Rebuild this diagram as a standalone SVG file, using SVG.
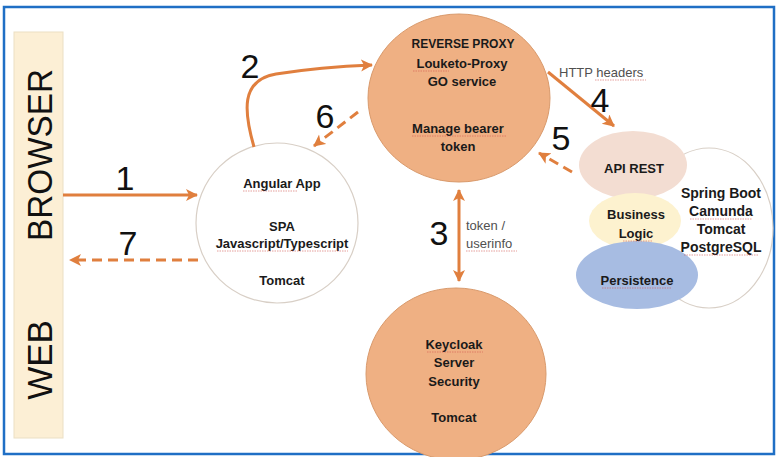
<svg xmlns="http://www.w3.org/2000/svg" width="776" height="457" viewBox="0 0 776 457">
<defs>
<style>
.t{font-family:"Liberation Sans",Arial,sans-serif;font-weight:bold;font-size:13px;fill:#1a1a1a;text-anchor:middle}
.big{font-size:14px}
.lbl{font-family:"Liberation Sans",Arial,sans-serif;font-size:13px;fill:#505050}
.num{font-family:"Liberation Sans",Arial,sans-serif;font-size:34px;fill:#111;text-anchor:middle}
.side{font-family:"Liberation Sans",Arial,sans-serif;font-size:35px;fill:#111;text-anchor:middle}
.orange{fill:#efb083;stroke:#d99a6c;stroke-width:1}
.arr{fill:none;stroke:#e07f3e;stroke-width:3}
.dash{stroke-dasharray:10 6}
.sp{stroke:#d2524c;stroke-width:1;stroke-dasharray:1.5 1;opacity:0.55}
</style>
<marker id="ah" markerWidth="14" markerHeight="14" refX="11" refY="6" orient="auto" markerUnits="userSpaceOnUse">
<path d="M0,0 L12,6 L0,12 L3,6 z" fill="#e07f3e"/>
</marker>
<marker id="ahs" markerWidth="14" markerHeight="14" refX="1" refY="6" orient="auto" markerUnits="userSpaceOnUse">
<path d="M12,0 L0,6 L12,12 L9,6 z" fill="#e07f3e"/>
</marker>
</defs>
<rect x="4" y="7" width="770" height="447" fill="#ffffff" stroke="#1f6fc5" stroke-width="2.5"/>

<g id="browser-bar">
<rect x="14" y="32" width="49" height="406" fill="#fcefd5" stroke="#ebdfc4" stroke-width="1"/>
<text class="side" transform="translate(52,155) rotate(-90)" textLength="172" lengthAdjust="spacingAndGlyphs">BROWSER</text>
<text class="side" transform="translate(52,360) rotate(-90)">WEB</text>
</g>

<g id="angular-app">
<ellipse cx="277" cy="223" rx="81" ry="80" fill="#ffffff" stroke="#d8cfc6" stroke-width="1.2"/>
<text class="t" x="282" y="188">Angular App</text>
<text class="t" x="282" y="231">SPA</text>
<text class="t" x="282" y="248">Javascript/Typescript</text>
<text class="t" x="282" y="285">Tomcat</text>
</g>

<g id="reverse-proxy">
<ellipse cx="459" cy="98" rx="91" ry="84" class="orange"/>
<text class="t" x="463" y="48" textLength="103" lengthAdjust="spacingAndGlyphs">REVERSE PROXY</text>
<text class="t" x="462" y="68">Louketo-Proxy</text>
<text class="t" x="462" y="86">GO service</text>
<text class="t" x="458" y="133">Manage bearer</text>
<text class="t" x="458" y="151">token</text>
</g>

<g id="keycloak">
<ellipse cx="456" cy="374" rx="90" ry="86" class="orange"/>
<text class="t" x="454" y="349">Keycloak</text>
<text class="t" x="454" y="367">Server</text>
<text class="t" x="454" y="386">Security</text>
<text class="t" x="454" y="422">Tomcat</text>
</g>

<g id="spring-boot">
<ellipse cx="709" cy="228" rx="64" ry="80" fill="#ffffff" stroke="#d8cfc6" stroke-width="1.2"/>
<text class="t big" x="721" y="198">Spring Boot</text>
<text class="t big" x="721" y="216">Camunda</text>
<text class="t big" x="721" y="234">Tomcat</text>
<text class="t big" x="721" y="252">PostgreSQL</text>
</g>

<g id="api-rest">
<ellipse cx="633" cy="165" rx="54" ry="34" fill="#f3ddd2"/>
<text class="t" x="634" y="173">API REST</text>
</g>

<g id="business-logic">
<ellipse cx="635" cy="221" rx="46" ry="28" fill="#fdf2cf"/>
<text class="t" x="636" y="219">Business</text>
<text class="t" x="636" y="238">Logic</text>
</g>

<g id="persistence">
<ellipse cx="637" cy="275" rx="61" ry="34" fill="#a7bce2"/>
<text class="t" x="637" y="285">Persistence</text>
</g>

<g id="connectors">
<line class="arr" x1="63" y1="195" x2="197" y2="195" marker-end="url(#ah)"/>
<line class="arr dash" x1="198" y1="260" x2="70" y2="260" marker-end="url(#ah)"/>
<path class="arr" d="M254,147 C244,112 240,80 276,74 Q320,67 372,65" marker-end="url(#ah)"/>
<line class="arr dash" x1="358" y1="112" x2="314" y2="146" marker-end="url(#ah)"/>
<line class="arr" x1="548" y1="72" x2="614" y2="126" marker-end="url(#ah)"/>
<line class="arr dash" x1="572" y1="172" x2="539" y2="153" marker-end="url(#ah)"/>
<line class="arr" x1="459" y1="190" x2="459" y2="281" stroke-width="2.5" marker-start="url(#ahs)" marker-end="url(#ah)"/>
</g>

<g id="labels">
<text class="num" x="125" y="190">1</text>
<text class="num" x="250" y="78">2</text>
<text class="num" x="439" y="245">3</text>
<text class="num" x="600" y="112">4</text>
<text class="num" x="561" y="150">5</text>
<text class="num" x="325" y="128">6</text>
<text class="num" x="128" y="255">7</text>
<text class="lbl" x="559" y="77">HTTP headers</text>
<text class="lbl" x="466" y="230">token /</text>
<text class="lbl" x="466" y="248">userinfo</text>
</g>

<g id="spellcheck">
<line class="sp" x1="413" y1="71" x2="449" y2="71"/>
<line class="sp" x1="412" y1="136" x2="507" y2="136"/>
<line class="sp" x1="595" y1="80" x2="646" y2="80"/>
<line class="sp" x1="243" y1="191" x2="297" y2="191"/>
<line class="sp" x1="217" y1="251" x2="348" y2="251"/>
<line class="sp" x1="427" y1="352" x2="483" y2="352"/>
<line class="sp" x1="466" y1="251" x2="517" y2="251"/>
<line class="sp" x1="690" y1="219" x2="752" y2="219"/>
<line class="sp" x1="684" y1="255" x2="759" y2="255"/>
<line class="sp" x1="623" y1="241" x2="652" y2="241"/>
<line class="sp" x1="602" y1="288" x2="672" y2="288"/>
</g>
</svg>
